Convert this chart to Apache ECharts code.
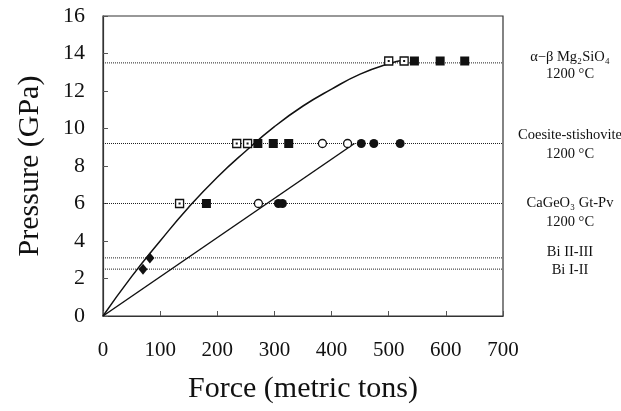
<!DOCTYPE html>
<html>
<head>
<meta charset="utf-8">
<script src="https://cdn.jsdelivr.net/npm/echarts@6/dist/echarts.min.js"></script>
<style>
  html, body { margin: 0; padding: 0; background: #fff; }
  #chart { width: 621px; height: 411px; }
</style>
</head>
<body>
<div id="chart"></div>
<script>
// transition pressures (GPa) drawn as dotted reference lines
var transitionPressures = [13.5, 9.2, 6.0, 3.1, 2.5];

// [force, pressure] points
var openSquares = [[500, 13.6], [527, 13.6], [234, 9.2], [253, 9.2], [134, 6.0]];
var filledSquares = [[545, 13.6], [590, 13.6], [633, 13.6], [271, 9.2], [298, 9.2], [325, 9.2], [181, 6.0]];
var openCircles = [[384, 9.2], [428, 9.2], [272, 6.0]];
var filledCircles = [[452, 9.2], [474, 9.2], [520, 9.2], [307, 6.0], [314, 6.0]];
var diamonds = [[82, 3.1], [70, 2.5]];

// calibration curve and the straight line
var curvePoints = [[0, 0], [50, 2.1], [100, 4.0], [150, 5.8], [200, 7.4], [250, 8.8], [300, 10.1],
                   [350, 11.2], [400, 12.1], [450, 12.9], [500, 13.45], [527, 13.65]];
var linePoints = [[0, 0], [440, 9.2]];

// labels on the right, one per line
var sideLabels = ['α−β Mg₂SiO₄', '1200 °C', 'Coesite-stishovite', '1200 °C',
                  'CaGeO₃ Gt-Pv', '1200 °C', 'Bi II-III', 'Bi I-II'];
var sideLabelY = [57, 74, 135, 154, 203, 222, 252, 270];

var xTicks = { min: 0, max: 700, interval: 100 };
var yTicks = { min: 0, max: 16, interval: 2 };

var serif = 'Liberation Serif';
var chart = echarts.init(document.getElementById('chart'));

var series = [];
transitionPressures.forEach(function (p) {
    series.push({
        type: 'line',
        data: [[xTicks.min, p], [xTicks.max, p]],
        showSymbol: false,
        silent: true,
        lineStyle: { color: '#222', width: 1, type: [1, 1] },
        z: 1
    });
});
series.push({
    type: 'line', data: curvePoints, smooth: true, showSymbol: false,
    lineStyle: { color: '#111', width: 1.5 }, z: 2
});
series.push({
    type: 'line', data: linePoints, showSymbol: false,
    lineStyle: { color: '#111', width: 1.5 }, z: 2
});
series.push({
    type: 'scatter', data: openSquares, symbol: 'rect', symbolSize: 8,
    itemStyle: { color: '#fff', borderColor: '#111', borderWidth: 1.3, opacity: 1 }, z: 3
});
series.push({
    type: 'scatter', data: openSquares, symbol: 'rect', symbolSize: 2,
    itemStyle: { color: '#111', opacity: 1 }, z: 4
});
series.push({
    type: 'scatter', data: filledSquares, symbol: 'rect', symbolSize: 9,
    itemStyle: { color: '#111', opacity: 1 }, z: 3
});
series.push({
    type: 'scatter', data: openCircles, symbol: 'circle', symbolSize: 8,
    itemStyle: { color: '#fff', borderColor: '#111', borderWidth: 1.3, opacity: 1 }, z: 3
});
series.push({
    type: 'scatter', data: filledCircles, symbol: 'circle', symbolSize: 9,
    itemStyle: { color: '#111', opacity: 1 }, z: 3
});
series.push({
    type: 'scatter', data: diamonds, symbol: 'diamond', symbolSize: [9, 11],
    itemStyle: { color: '#111', opacity: 1 }, z: 3
});

var graphics = sideLabels.map(function (str, i) {
    return {
        type: 'text', x: 570, y: sideLabelY[i],
        style: { text: str, fontFamily: serif, fontSize: 14.5, fill: '#111',
                 align: 'center', verticalAlign: 'middle' }
    };
});

var option = {
    animation: false,
    grid: {
        left: 103, right: 118, top: 16, bottom: 95,
        show: true, borderColor: '#333', borderWidth: 1.2, backgroundColor: 'transparent'
    },
    xAxis: {
        type: 'value',
        min: xTicks.min, max: xTicks.max, interval: xTicks.interval,
        name: 'Force (metric tons)',
        nameLocation: 'middle', nameGap: 58,
        nameTextStyle: { fontFamily: serif, fontSize: 30, color: '#111' },
        axisLine: { lineStyle: { color: '#333', width: 1.2 } },
        axisTick: { inside: true, length: 5, lineStyle: { color: '#555' } },
        axisLabel: { fontFamily: serif, fontSize: 21, color: '#111', margin: 24 },
        splitLine: { show: false }
    },
    yAxis: {
        type: 'value',
        min: yTicks.min, max: yTicks.max, interval: yTicks.interval,
        name: 'Pressure (GPa)',
        nameLocation: 'middle', nameGap: 58,
        nameTextStyle: { fontFamily: serif, fontSize: 30, color: '#111' },
        axisLine: { lineStyle: { color: '#333', width: 1.2 } },
        axisTick: { inside: true, length: 5, lineStyle: { color: '#555' } },
        axisLabel: { fontFamily: serif, fontSize: 22, color: '#111', margin: 18 },
        splitLine: { show: false }
    },
    graphic: graphics,
    series: series
};
chart.setOption(option);
</script>
</body>
</html>
